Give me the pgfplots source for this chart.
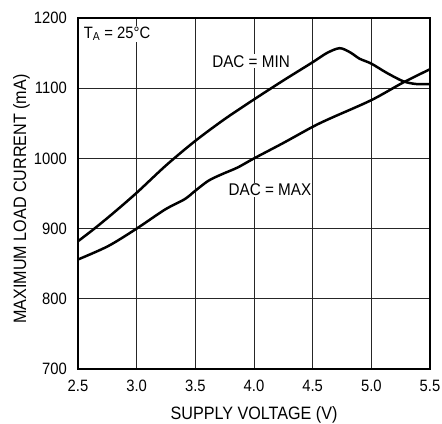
\documentclass[border=0pt]{standalone}
\usepackage{fontspec}
\setmainfont{Liberation Sans}[FakeStretch=0.9]
\usepackage{pgfplots}
\pgfplotsset{compat=1.18}
\begin{document}
\begin{tikzpicture}
\begin{axis}[
  scale only axis,
  width=352bp, height=351bp,
  at={(0,0)}, anchor=south west,
  xmin=2.5, xmax=5.5, ymin=700, ymax=1200,
  xtick={2.5,3.0,...,5.5},
  ytick={700,800,...,1200},
  /pgf/number format/assume math mode=true,
  ticklabel style={font=\fontsize{16.5}{18}\selectfont},
  xticklabel style={anchor=north, inner sep=0pt, yshift=-11bp,
    /pgf/number format/fixed, /pgf/number format/fixed zerofill,
    /pgf/number format/precision=1},
  yticklabel style={anchor=east, inner sep=0pt, xshift=-11bp,
    /pgf/number format/fixed, /pgf/number format/1000 sep={}},
  tick style={draw=none},
  grid=major,
  major grid style={black!85, line width=0.8pt},
  axis line style={line width=1.5pt},
  label style={font=\fontsize{18}{20}\selectfont},
  xlabel={SUPPLY VOLTAGE (V)},
  ylabel={MAXIMUM LOAD CURRENT (mA)},
  xlabel style={at={(axis description cs:0.5,-0.1425)}, anchor=base, inner sep=0pt},
  ylabel style={at={(axis description cs:-0.1477,0.484)}, anchor=base, inner sep=0pt},
  clip=false,
]
% DAC = MIN
\addplot[black, line width=2.5pt, smooth, tension=0.5] coordinates {
  (2.5,882) (2.64,900) (2.8,922) (3.0,951) (3.25,990) (3.5,1025)
  (3.75,1056) (4.0,1084) (4.25,1111) (4.5,1137)
  (4.62,1150) (4.73,1157) (4.82,1151) (4.9,1142) (5.0,1135) (5.13,1122)
  (5.27,1110) (5.38,1106) (5.5,1106)
};
% DAC = MAX
\addplot[black, line width=2.5pt, smooth, tension=0.5] coordinates {
  (2.5,856) (2.756,875) (3.0,900) (3.24,927) (3.41,942) (3.5,954)
  (3.61,968) (3.72,977) (3.86,987) (4.0,1000) (4.25,1022) (4.5,1045)
  (4.65,1057) (5.0,1083) (5.27,1108) (5.5,1127)
};
\node[anchor=base west, fill=white, inner sep=1pt, font=\fontsize{16.5}{18}\selectfont]
  at (axis cs:2.54,1171) {T\textsubscript{A} = 25°C};
\node[anchor=base, fill=white, inner sep=1pt, font=\fontsize{17}{19}\selectfont]
  at (axis cs:3.975,1130) {DAC = MIN};
\node[anchor=base, fill=white, inner sep=1pt, font=\fontsize{17}{19}\selectfont]
  at (axis cs:4.136,947) {DAC = MAX};
\end{axis}
\pgfresetboundingbox
\useasboundingbox (-78bp,-55bp) rectangle (364bp,369bp);
\end{tikzpicture}
\end{document}
